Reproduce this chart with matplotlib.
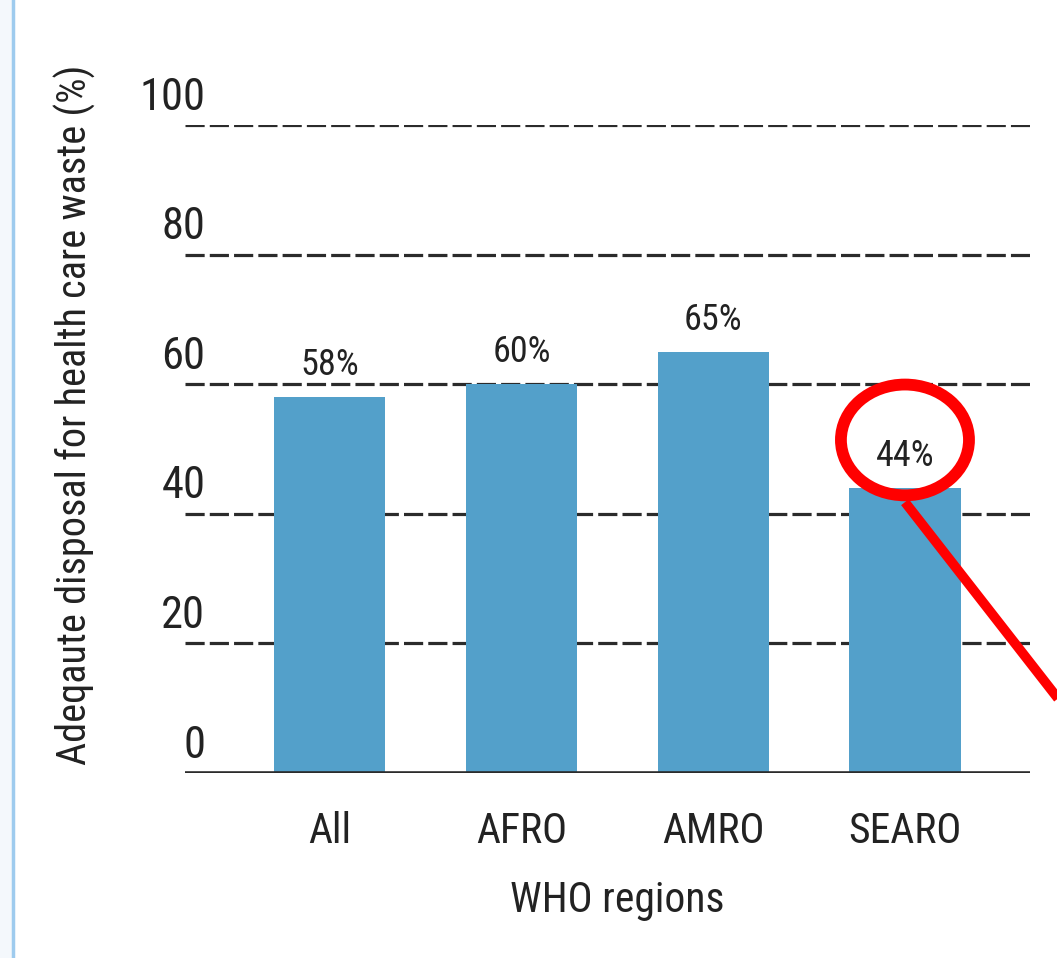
import matplotlib.pyplot as plt
import matplotlib.patches as mpatches
import matplotlib.transforms as mtransforms
import numpy as np

plt.rcParams['font.family'] = ['Liberation Sans Narrow', 'Roboto Condensed', 'DejaVu Sans']
plt.rcParams['font.stretch'] = 'condensed'

regions = ['All', 'AFRO', 'AMRO', 'SEARO']
disposal_pct = [58, 60, 65, 44]
y_ticks = [0, 20, 40, 60, 80, 100]

bar_color = '#53a0ca'
grid_color = '#2b2b2b'
text_color = '#222222'

fig = plt.figure(figsize=(10.57, 9.58), dpi=100)
ax = fig.add_axes([0.175, 0.1931, 0.7994, 0.6764])

x = np.arange(len(regions))
bars = ax.bar(x, disposal_pct, 0.58, color=bar_color, zorder=3)

ax.set_xlim(-0.756, 3.652)
ax.set_ylim(0, 100)

# dashed grid lines (drawn behind the bars)
for t in y_ticks[1:]:
    ax.axhline(t, color=grid_color, linestyle=(0, (6, 1.6)), linewidth=2.3, zorder=1)
ax.axhline(0, color=grid_color, linewidth=2.6, zorder=4)

for s in ax.spines.values():
    s.set_visible(False)
ax.set_yticks([])
ax.set_xticks(x)
ax.set_xticklabels(regions, fontsize=30)
ax.tick_params(axis='x', length=0, pad=27, colors=text_color)

# y tick labels sit above the grid lines
ytr = mtransforms.blended_transform_factory(ax.transAxes, ax.transData)
for t in y_ticks:
    ax.text(0.024, t + 1.0, str(t), transform=ytr, ha='right', va='bottom',
            fontsize=32, color=text_color)

# value labels
for rect, v in zip(bars, disposal_pct):
    ax.annotate(f'{v}%', xy=(rect.get_x() + rect.get_width() / 2, v),
                xytext=(0, 10), textcoords='offset points',
                ha='center', va='bottom', fontsize=26, color=text_color)

xtr = mtransforms.blended_transform_factory(ax.transData, ax.transAxes)
ax.text((x[0] + x[-1]) / 2, -0.196, 'WHO regions', transform=xtr,
        ha='center', va='center', fontsize=30, color=text_color)

fig.text(0.071, 0.567, 'Adeqaute disposal for health care waste (%)', rotation=90,
         ha='center', va='center', fontsize=29, color=text_color)

# red highlight around the SEARO value
hi = 3
ell = mpatches.Ellipse((hi, disposal_pct[hi] + 7.4), 0.668, 17.1, fill=False,
                       edgecolor='#ff0000', linewidth=8.5, zorder=6, clip_on=False)
ax.add_patch(ell)
ax.plot([hi, hi + 0.9], [disposal_pct[hi] - 2.2, disposal_pct[hi] - 2.2 - 0.9 * 37.96],
        color='#ff0000', linewidth=7, zorder=6, clip_on=False, solid_capstyle='butt')

# thin blue frame line on the left edge
fig.patches.append(mpatches.Rectangle((0, 0), 0.011, 1, transform=fig.transFigure,
                                      facecolor='#f4f8fc', edgecolor='none'))
fig.lines.append(plt.Line2D([0.0125, 0.0125], [0, 1], transform=fig.transFigure,
                            color='#9ecbee', linewidth=2.5))

fig.savefig('out.png', dpi=100)
